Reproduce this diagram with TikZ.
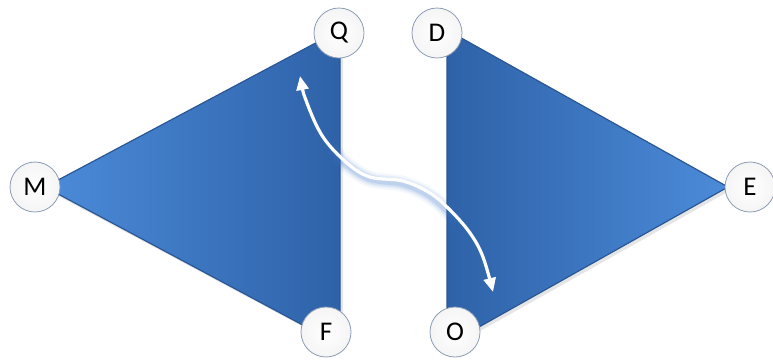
\documentclass[tikz,border=0pt]{standalone}
\usepackage{fontspec}
\setmainfont{Carlito}
\usetikzlibrary{shadings,arrows.meta}
\definecolor{triL}{HTML}{4C8BD9}
\definecolor{triD}{HTML}{2E62A8}
\definecolor{triE}{HTML}{2A5794}
\definecolor{cedge}{HTML}{8C9DB5}
\definecolor{glow}{HTML}{3F78C8}
\tikzset{
  lbl/.style={circle, minimum size=50pt, inner sep=0pt, draw=cedge, line width=0.8pt,
    inner color=white, outer color=white!92!gray, font=\fontsize{27}{27}\selectfont},
  tri/.style={draw=triE, line width=1.2pt, line join=round},
  flow/.style={draw=white, line width=3.2pt, line cap=round, >={Triangle[length=14pt,width=12pt]}},
  glowline/.style={draw=glow, line cap=round},
}
\begin{document}
\begin{tikzpicture}[x=1pt,y=-1pt]
\useasboundingbox (0,0) rectangle (773,360);
% shadows
\fill[black,opacity=0.10] (47,190) -- (343,33) -- (343,348) -- cycle;
\fill[black,opacity=0.10] (450,33) -- (731,190) -- (450,348) -- cycle;
% triangles
\shade[tri, left color=triL, right color=triD] (45,187) -- (340,30) -- (340,345) -- cycle;
\shade[tri, left color=triD, right color=triL] (447,30) -- (728,187) -- (447,345) -- cycle;
% arrow glow
\foreach \w/\o in {16/0.06, 12/0.08, 9/0.10, 6/0.14}{
  \draw[glowline, line width=\w pt, opacity=\o]
    plot[smooth, tension=0.6] coordinates {(335,152) (347,165) (370,179) (403,184) (430,196) (455,218)};
}
\coordinate (a1) at (300,76);
\coordinate (a2) at (493,292);
\draw[flow, <->] plot[smooth, tension=0.6] coordinates {(a1) (307,103) (323,137) (347,163) (370,177) (403,181) (430,193) (450,210) (470,233) (483,257) (a2)};
% labels
\node[lbl] (M) at (35,187) {M};
\node[lbl] (Q) at (339,33) {Q};
\node[lbl] (D) at (437,33) {D};
\node[lbl] (E) at (750,187) {E};
\node[lbl] (F) at (326,332) {F};
\node[lbl] (O) at (455,332) {O};
\end{tikzpicture}
\end{document}
